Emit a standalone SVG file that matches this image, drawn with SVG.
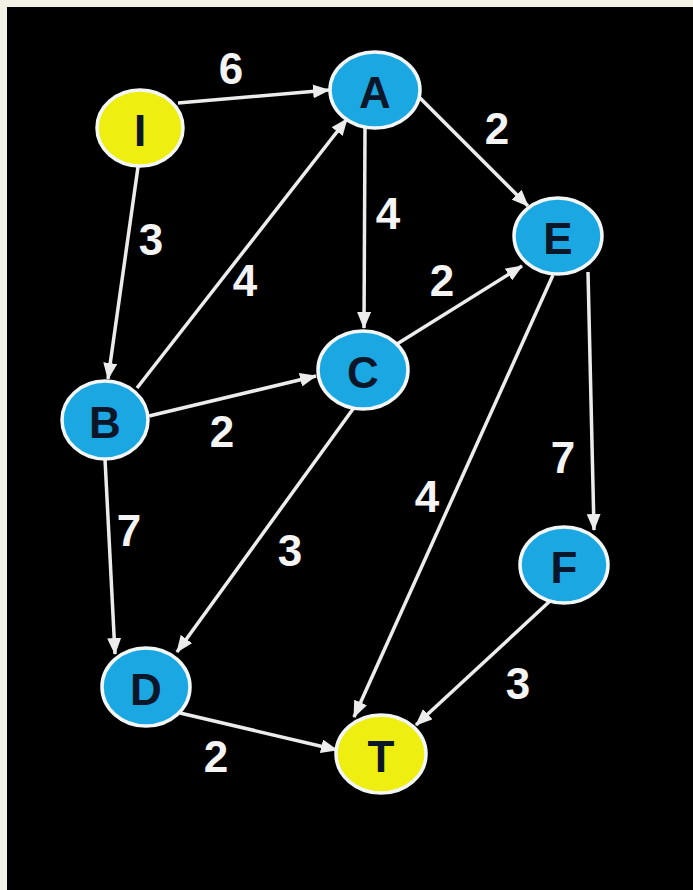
<svg xmlns="http://www.w3.org/2000/svg" width="693" height="890" viewBox="0 0 693 890">
<defs>
<style>
.edge{stroke:#ececec;stroke-width:3.5;fill:none;marker-end:url(#arr)}
.node ellipse{stroke:#f2f6f6;stroke-width:3.5}
.blue{fill:#1ba8e2}
.yellow{fill:#eeee10}
.nl{font-family:"Liberation Sans",Arial,sans-serif;font-weight:bold;font-size:44px;fill:#0b1628;text-anchor:middle;dominant-baseline:central}
.wl{font-family:"Liberation Sans",Arial,sans-serif;font-weight:bold;font-size:44px;fill:#f4f4f4;text-anchor:middle;dominant-baseline:central}
</style>
<marker id="arr" markerUnits="userSpaceOnUse" markerWidth="18" markerHeight="14" refX="16" refY="7" orient="auto">
<path d="M0,0 L17,7 L0,14 Z" fill="#ececec"/>
</marker>
</defs>
<rect x="0" y="0" width="693" height="890" fill="#f3f1e5"/>
<rect x="7" y="7" width="686" height="883" fill="#000"/>
<g id="connectors">
<line class="edge" x1="178" y1="103" x2="329" y2="90"/>
<line class="edge" x1="138" y1="167" x2="108" y2="379"/>
<line class="edge" x1="137" y1="388" x2="347" y2="119"/>
<line class="edge" x1="365" y1="128" x2="364" y2="328"/>
<line class="edge" x1="419" y1="97" x2="528" y2="206"/>
<line class="edge" x1="397" y1="344" x2="522" y2="266"/>
<line class="edge" x1="149" y1="416" x2="316" y2="376"/>
<line class="edge" x1="105" y1="459" x2="115" y2="654"/>
<line class="edge" x1="353" y1="409" x2="177" y2="652"/>
<line class="edge" x1="553" y1="275" x2="354" y2="717"/>
<line class="edge" x1="588" y1="272" x2="594" y2="530"/>
<line class="edge" x1="550" y1="601" x2="416" y2="725"/>
<line class="edge" x1="180" y1="713" x2="337" y2="750"/>
</g>
<g id="labels">
<text class="wl" x="231" y="68">6</text>
<text class="wl" x="497" y="128">2</text>
<text class="wl" x="151" y="239">3</text>
<text class="wl" x="245" y="280">4</text>
<text class="wl" x="388" y="213">4</text>
<text class="wl" x="442" y="280">2</text>
<text class="wl" x="222" y="431">2</text>
<text class="wl" x="129" y="530">7</text>
<text class="wl" x="290" y="550">3</text>
<text class="wl" x="427" y="496">4</text>
<text class="wl" x="563" y="457">7</text>
<text class="wl" x="518" y="683">3</text>
<text class="wl" x="216" y="756">2</text>
</g>
<g id="node-I" class="node"><ellipse class="yellow" cx="140" cy="128" rx="43" ry="38"/><text class="nl" x="140" y="130">I</text></g>
<g id="node-A" class="node"><ellipse class="blue" cx="375" cy="90" rx="45" ry="38"/><text class="nl" x="375" y="92">A</text></g>
<g id="node-E" class="node"><ellipse class="blue" cx="558" cy="236" rx="44" ry="38"/><text class="nl" x="558" y="238">E</text></g>
<g id="node-B" class="node"><ellipse class="blue" cx="105" cy="420" rx="43" ry="39"/><text class="nl" x="105" y="422">B</text></g>
<g id="node-C" class="node"><ellipse class="blue" cx="363" cy="370" rx="45" ry="39"/><text class="nl" x="363" y="372">C</text></g>
<g id="node-D" class="node"><ellipse class="blue" cx="146" cy="687" rx="44" ry="39"/><text class="nl" x="146" y="689">D</text></g>
<g id="node-F" class="node"><ellipse class="blue" cx="564" cy="565" rx="44" ry="38"/><text class="nl" x="564" y="567">F</text></g>
<g id="node-T" class="node"><ellipse class="yellow" cx="381" cy="754" rx="45" ry="39"/><text class="nl" x="381" y="756">T</text></g>
</svg>
